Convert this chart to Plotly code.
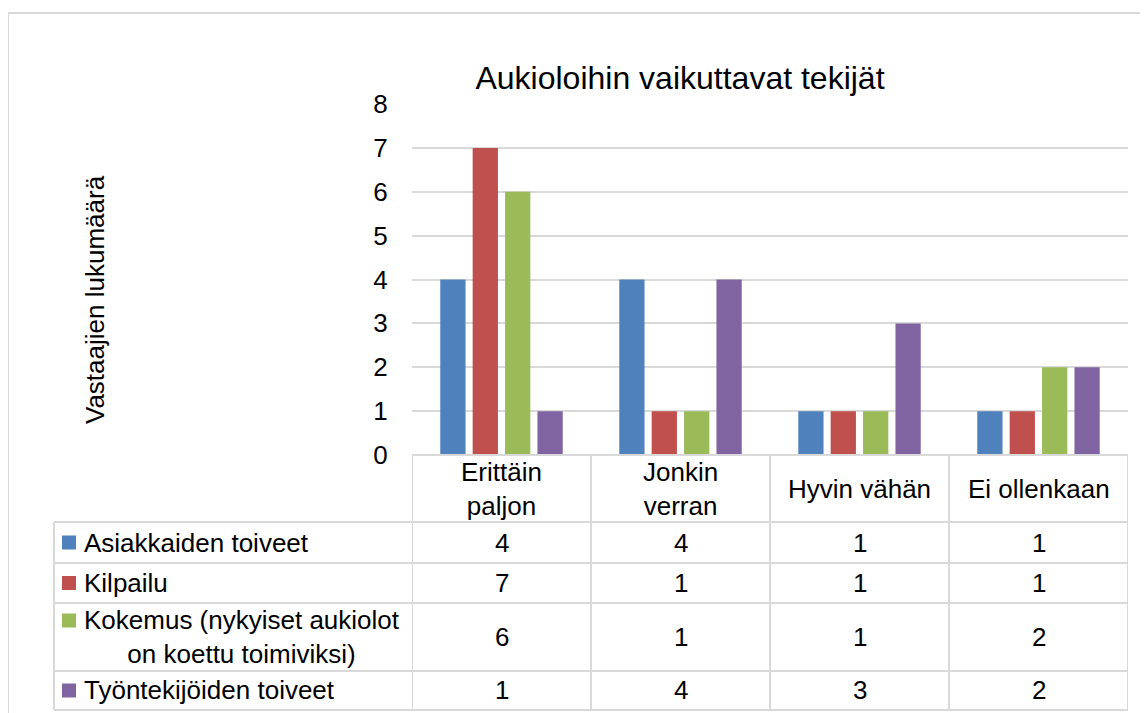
import plotly.graph_objects as go

# Data
categories = ["Erittäin paljon", "Jonkin verran", "Hyvin vähän", "Ei ollenkaan"]
category_labels = ["Erittäin<br>paljon", "Jonkin<br>verran", "Hyvin vähän", "Ei ollenkaan"]
series_names = ["Asiakkaiden toiveet", "Kilpailu",
                "Kokemus (nykyiset aukiolot<br>on koettu toimiviksi)",
                "Työntekijöiden toiveet"]
asiakkaiden_toiveet = [4, 4, 1, 1]
kilpailu = [7, 1, 1, 1]
kokemus = [6, 1, 1, 2]
tyontekijoiden_toiveet = [1, 4, 3, 2]
series_values = [asiakkaiden_toiveet, kilpailu, kokemus, tyontekijoiden_toiveet]
colors = ["#4F81BD", "#C0504D", "#9BBB59", "#8064A2"]
y_ticks = [0, 1, 2, 3, 4, 5, 6, 7, 8]

# the page body has an 8px margin, so the figure is drawn 8px smaller and
# all pixel positions below are given in screenshot coordinates
OFF = 8
W, H = 1148 - OFF, 713 - OFF
L, R, T, B = 412, 1128, 104, 455   # plot area (screenshot pixels)
FONT = "Liberation Sans, Arial, sans-serif"
GRID = "#d9d9d9"
FS = 26


def xp(px):
    return (px - L) / (R - L)


def yp(py):
    return (B - py) / (B - T)


fig = go.Figure()
for name, vals, col in zip(series_names, series_values, colors):
    fig.add_trace(go.Bar(x=categories, y=vals, name=name.replace("<br>", " "),
                         marker=dict(color=col, line=dict(width=0))))

shapes = []
annotations = []

# outer chart border
shapes.append(dict(type="rect", xref="paper", yref="paper",
                   x0=xp(8), x1=xp(1170), y0=yp(740), y1=yp(13),
                   line=dict(color=GRID, width=2)))

# data table
row_edges = [455, 522, 563, 603, 671, 710]
left_col = 54
shapes.append(dict(type="line", xref="paper", yref="paper", x0=0, x1=1,
                   y0=yp(row_edges[0]), y1=yp(row_edges[0]),
                   line=dict(color=GRID, width=2)))
for py in row_edges[1:]:
    shapes.append(dict(type="line", xref="paper", yref="paper", x0=xp(left_col), x1=1,
                       y0=yp(py), y1=yp(py), line=dict(color=GRID, width=2)))
for i in range(len(categories) + 1):
    shapes.append(dict(type="line", xref="x", yref="paper", x0=i - 0.5, x1=i - 0.5,
                       y0=yp(row_edges[0]), y1=yp(row_edges[-1]),
                       line=dict(color=GRID, width=2)))
shapes.append(dict(type="line", xref="paper", yref="paper", x0=xp(left_col), x1=xp(left_col),
                   y0=yp(row_edges[1]), y1=yp(row_edges[-1]),
                   line=dict(color=GRID, width=2)))

# header row
hy = yp((row_edges[0] + row_edges[1]) / 2)
for cat, lab in zip(categories, category_labels):
    annotations.append(dict(x=cat, y=hy, xref="x", yref="paper", text=lab,
                            showarrow=False, font=dict(size=FS, color="black"),
                            xanchor="center", yanchor="middle"))

# series rows
for r, (name, vals, col) in enumerate(zip(series_names, series_values, colors)):
    top, bot = row_edges[r + 1], row_edges[r + 2]
    cy = (top + bot) / 2
    nlines = name.count("<br>") + 1
    sy = cy - (nlines - 1) * 16.5
    shapes.append(dict(type="rect", xref="paper", yref="paper",
                       x0=xp(62), x1=xp(76), y0=yp(sy + 7), y1=yp(sy - 7),
                       fillcolor=col, line=dict(width=0)))
    annotations.append(dict(x=xp(82), y=yp(cy), xref="paper", yref="paper", text=name,
                            showarrow=False, font=dict(size=FS, color="black"),
                            xanchor="left", yanchor="middle", align="center"))
    for cat, v in zip(categories, vals):
        annotations.append(dict(x=cat, y=yp(cy), xref="x", yref="paper", text=str(v),
                                showarrow=False, font=dict(size=FS, color="black"),
                                xanchor="center", yanchor="middle"))

# y axis title
annotations.append(dict(x=xp(95), y=yp(300), xref="paper", yref="paper",
                        text="Vastaajien lukumäärä", textangle=-90, showarrow=False,
                        font=dict(size=FS, color="black"),
                        xanchor="center", yanchor="middle"))

fig.update_layout(
    width=W, height=H,
    margin=dict(l=L - OFF, r=W - (R - OFF), t=T - OFF, b=H - (B - OFF), pad=0),
    paper_bgcolor="white", plot_bgcolor="white",
    font=dict(family=FONT, color="black"),
    title=dict(text="Aukioloihin vaikuttavat tekijät", x=(680 - OFF) / W, xanchor="center",
               y=1 - (78 - OFF) / H, yanchor="middle", font=dict(size=32, color="black")),
    barmode="group", bargap=0.276, bargroupgap=0.22,
    showlegend=False,
    xaxis=dict(showticklabels=False, showgrid=False, zeroline=False, showline=False,
               range=[-0.5, 3.5]),
    yaxis=dict(range=[0, 8], tickvals=y_ticks, showgrid=True, gridcolor=GRID, gridwidth=2,
               zeroline=False, showline=False, ticks="outside", ticklen=18,
               tickcolor="rgba(0,0,0,0)", tickfont=dict(size=FS, color="black")),
    shapes=shapes,
    annotations=annotations,
)

fig.write_html("out.html")
